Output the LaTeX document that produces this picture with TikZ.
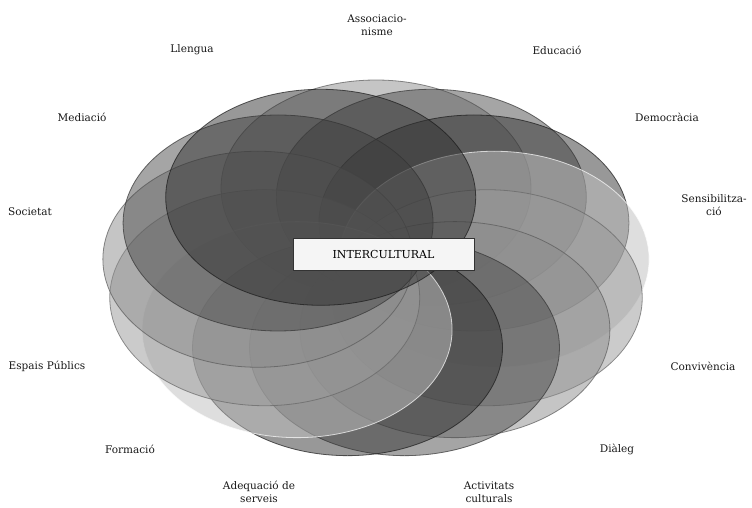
\documentclass[tikz,border=0pt]{standalone}
\usepackage{fontspec}
\setmainfont{DejaVu Serif}
\usetikzlibrary{shapes.geometric}
\begin{document}
\begin{tikzpicture}[x=1pt,y=-1pt,
  petal/.style={ellipse, minimum width=310pt, minimum height=216pt, inner sep=0pt,
    line width=0.8pt, fill opacity=0.5, draw opacity=0.7},
  shA/.style={petal, fill=black!45, draw=black!65},
  shB/.style={petal, fill=black!70, draw=black!80},
  shC/.style={petal, fill=black!80, draw=black!90},
  shD/.style={petal, fill=black!25, draw=white},
  shE/.style={petal, fill=black!40, draw=black!60},
  lbl/.style={font=\fontsize{10.5}{13}\selectfont, align=center, text=black!90},
  corebox/.style={draw=black!80, fill=black!4, line width=0.9pt,
    minimum width=181pt, minimum height=32pt, inner sep=0pt,
    font=\fontsize{11}{12}\selectfont}]
\useasboundingbox (0,0) rectangle (752,507);
\fill[white] (0,0) rectangle (752,507);
% thirteen petals placed round an elliptical ring, painted in order
\foreach \i/\s in {0/shA,1/shB,2/shC,3/shD,4/shE,5/shA,6/shB,7/shC,8/shD,9/shE,10/shA,11/shB,12/shC}{
  \pgfmathsetmacro\t{90-\i*360/13}
  \node[\s] (e\i) at ({376+119*cos(\t)},{269-81*sin(\t)}) {};
}
\node[corebox] (core) at (383.5,254) {INTERCULTURAL};
% labels round the ring
\node[lbl] (l0) at (377,25) {Associacio-\\nisme};
\node[lbl] (l1) at (557,50) {Educació};
\node[lbl] (l2) at (667,117) {Democràcia};
\node[lbl] (l3) at (714,205) {Sensibilitza-\\ció};
\node[lbl] (l4) at (703,366) {Convivència};
\node[lbl] (l5) at (617,449) {Diàleg};
\node[lbl] (l6) at (489,492) {Activitats\\culturals};
\node[lbl] (l7) at (259,492) {Adequació de\\serveis};
\node[lbl] (l8) at (130,449) {Formació};
\node[lbl] (l9) at (47,366) {Espais Públics};
\node[lbl] (l10) at (30,212) {Societat};
\node[lbl] (l11) at (82,117) {Mediació};
\node[lbl] (l12) at (192,50) {Llengua};
\end{tikzpicture}
\end{document}
